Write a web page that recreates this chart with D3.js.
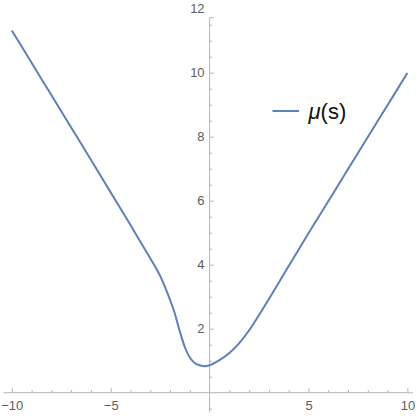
<!DOCTYPE html>
<html>
<head>
<meta charset="utf-8">
<script src="https://cdn.jsdelivr.net/npm/d3@7"></script>
<style>
  html, body { margin: 0; padding: 0; background: #fff; }
  svg { display: block; font-family: "Liberation Sans", Arial, sans-serif; }
</style>
</head>
<body>
<div id="root"></div>
<script>
'use strict';

// values
var sValues = [-10, -9, -8, -7, -6, -5, -4, -3.5, -3, -2.5, -2.2, -2, -1.75, -1.5, -1.25, -1,
  -0.75, -0.5, -0.25, 0, 0.5, 1, 1.5, 2, 2.5, 3, 4, 5, 6, 7, 8, 9, 10];
var muValues = [11.32, 10.31, 9.3, 8.29, 7.28, 6.26, 5.24, 4.72, 4.2, 3.65, 3.22, 2.9, 2.46, 1.9, 1.42, 1.1,
  0.93, 0.86, 0.83, 0.86, 1.02, 1.24, 1.55, 1.95, 2.43, 2.93, 3.96, 4.98, 5.98, 6.99, 7.99, 8.99, 9.99];
var xMajor = [-10, -5, 5, 10];
var xMinor = [-9, -8, -7, -6, -4, -3, -2, -1, 1, 2, 3, 4, 6, 7, 8, 9];
var yMajor = [2, 4, 6, 8, 10, 12];
var yMinor = [-0.5, 0.5, 1, 1.5, 2.5, 3, 3.5, 4.5, 5, 5.5, 6.5, 7, 7.5, 8.5, 9, 9.5, 10.5, 11, 11.5];
var xExtent = [-10.42, 10.28];
var yExtent = [-0.62, 11.72];
var seriesLabel = 'μ';

var width = 417;
var height = 417;
var axisColor = '#b5b5b5';
var labelColor = '#5c5c5c';
var lineColor = '#5e81b5';

var data = sValues.map(function (s, i) { return { s: s, mu: muValues[i] }; });

var x = d3.scaleLinear().domain([-10, 10]).range([11.8, 407.4]);
var y = d3.scaleLinear().domain([0, 10]).range([392.7, 72.7]);

var svg = d3.select('#root')
  .append('svg')
  .attr('width', width)
  .attr('height', height);

// axis lines
svg.append('line')
  .attr('x1', x(xExtent[0])).attr('x2', x(xExtent[1]))
  .attr('y1', y(0)).attr('y2', y(0))
  .attr('stroke', axisColor).attr('stroke-width', 1);

svg.append('line')
  .attr('x1', x(0)).attr('x2', x(0))
  .attr('y1', y(yExtent[0])).attr('y2', y(yExtent[1]))
  .attr('stroke', axisColor).attr('stroke-width', 1);

// small cap at top end of the vertical axis
svg.append('line')
  .attr('x1', x(0)).attr('x2', x(0) + 4)
  .attr('y1', y(yExtent[1])).attr('y2', y(yExtent[1]))
  .attr('stroke', axisColor).attr('stroke-width', 1);

function styleAxis(g) {
  g.select('.domain').remove();
  g.selectAll('.tick line').attr('stroke', axisColor);
  g.selectAll('.tick text')
    .attr('fill', labelColor)
    .style('font-size', '13px');
}

// x axis: minor then major
svg.append('g')
  .attr('transform', 'translate(0,' + y(0) + ')')
  .call(d3.axisBottom(x).tickValues(xMinor).tickSizeInner(-2.6).tickSizeOuter(0).tickFormat(''))
  .call(styleAxis);

svg.append('g')
  .attr('transform', 'translate(0,' + y(0) + ')')
  .call(d3.axisBottom(x).tickValues(xMajor).tickSizeInner(-4.5).tickSizeOuter(0).tickPadding(8))
  .call(styleAxis);

// y axis: minor then major
svg.append('g')
  .attr('transform', 'translate(' + x(0) + ',0)')
  .call(d3.axisLeft(y).tickValues(yMinor).tickSizeInner(-2.6).tickSizeOuter(0).tickFormat(''))
  .call(styleAxis);

svg.append('g')
  .attr('transform', 'translate(' + x(0) + ',0)')
  .call(d3.axisLeft(y).tickValues(yMajor.filter(function (v) { return v <= yExtent[1]; }))
    .tickSizeInner(-4.5).tickSizeOuter(0).tickPadding(5))
  .call(styleAxis);

// label for 12 sits above the axis end
svg.append('text')
  .attr('x', x(0) - 5)
  .attr('y', y(12))
  .attr('dy', '0.32em')
  .attr('text-anchor', 'end')
  .attr('fill', labelColor)
  .style('font-size', '13px')
  .text(d3.format('')(12));

// curve
var line = d3.line()
  .x(function (d) { return x(d.s); })
  .y(function (d) { return y(d.mu); })
  .curve(d3.curveMonotoneX);

svg.append('path')
  .datum(data)
  .attr('d', line)
  .attr('fill', 'none')
  .attr('stroke', lineColor)
  .attr('stroke-width', 2)
  .attr('stroke-linejoin', 'round');

// legend
var legend = svg.append('g').attr('transform', 'translate(272.5,111)');

legend.append('line')
  .attr('x1', 0).attr('x2', 26.5)
  .attr('y1', 0).attr('y2', 0)
  .attr('stroke', lineColor)
  .attr('stroke-width', 2);

var legendText = legend.append('text')
  .attr('x', 36)
  .attr('y', 7.5)
  .attr('fill', '#111')
  .style('font-size', '22px');

legendText.append('tspan').style('font-style', 'italic').text(seriesLabel);
legendText.append('tspan').text('(s)');
</script>
</body>
</html>
